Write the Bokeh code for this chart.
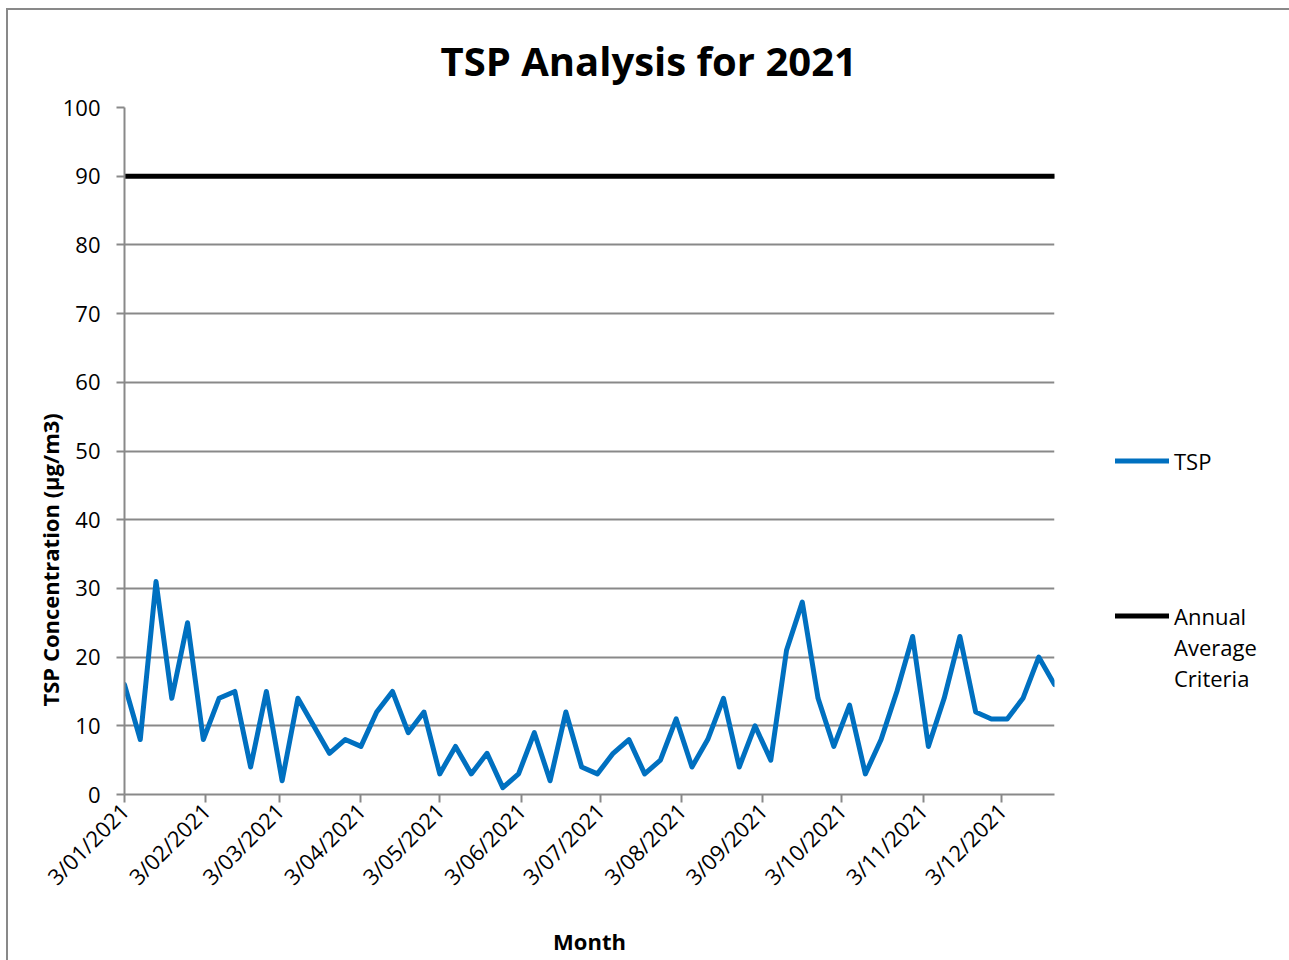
import pandas as pd
from bokeh.plotting import figure
from bokeh.models import Range1d, FixedTicker, Legend, LegendItem, Title
from bokeh.embed import file_html
from bokeh.resources import INLINE

# ---- data ----
start_date = "2021-01-03"
end_date = "2021-12-23"
tsp_values = [16, 8, 31, 14, 25, 8, 14, 15, 4, 15,
              2, 14, 10, 6, 8, 7, 12, 15, 9, 12,
              3, 7, 3, 6, 1, 3, 9, 2, 12, 4,
              3, 6, 8, 3, 5, 11, 4, 8, 14, 4,
              10, 5, 21, 28, 14, 7, 13, 3, 8, 15,
              23, 7, 14, 23, 12, 11, 11, 14, 20, 16]
criteria_value = 90
tick_dates = ["2021-01-03", "2021-02-03", "2021-03-03", "2021-04-03", "2021-05-03", "2021-06-03",
              "2021-07-03", "2021-08-03", "2021-09-03", "2021-10-03", "2021-11-03", "2021-12-03"]
tick_labels = ["3/01/2021", "3/02/2021", "3/03/2021", "3/04/2021", "3/05/2021", "3/06/2021",
               "3/07/2021", "3/08/2021", "3/09/2021", "3/10/2021", "3/11/2021", "3/12/2021"]
y_ticks = [0, 10, 20, 30, 40, 50, 60, 70, 80, 90, 100]
series_names = ["TSP", "Annual Average Criteria"]

dates = pd.date_range(start_date, periods=len(tsp_values), freq="6D")
criteria = [criteria_value] * len(tsp_values)

FONT = "Open Sans"
GRAY = "#898989"
BLUE = "#0070C0"

# canvas is shifted by CSS margin+border (8px left, 10px top)
SX, SY = 8, 10
L, R, T, B = 124 - SX, 235, 107 - SY, 166

p = figure(frame_width=930, frame_height=687, x_axis_type="datetime", output_backend="svg",
           toolbar_location=None, min_border_left=L, min_border_right=R,
           min_border_top=T, min_border_bottom=B,
           x_range=Range1d(pd.Timestamp(start_date), pd.Timestamp(end_date)),
           y_range=Range1d(0, 100),
           styles={"margin-left": "6px", "margin-top": "8px",
                   "border-left": "2px solid #898989", "border-top": "2px solid #898989"})
p.outline_line_color = None
p.background_fill_color = "white"
p.border_fill_color = "white"

# axes
tick_ms = [int(pd.Timestamp(d).value // 10**6) for d in tick_dates]
p.xaxis.ticker = FixedTicker(ticks=tick_ms)
p.xaxis.major_label_overrides = {t: lab for t, lab in zip(tick_ms, tick_labels)}
p.xaxis.major_label_orientation = 0.785398
p.yaxis.ticker = FixedTicker(ticks=y_ticks)
for ax in (p.xaxis, p.yaxis):
    ax.axis_line_color = GRAY
    ax.axis_line_width = 2
    ax.major_tick_line_color = GRAY
    ax.major_tick_line_width = 2
    ax.major_tick_in = 0
    ax.minor_tick_line_color = None
    ax.major_label_text_font = FONT
    ax.major_label_text_font_size = "22px"
    ax.major_label_text_color = "black"
    ax.axis_label_text_font = FONT
    ax.axis_label_text_font_style = "bold"
    ax.axis_label_text_color = "black"
p.xaxis.major_tick_out = 8
p.yaxis.major_tick_out = 8
p.xaxis.major_label_standoff = 4
p.yaxis.major_label_standoff = 16
p.xaxis.axis_label = "Month"
p.xaxis.axis_label_text_font_size = "22px"
p.xaxis.axis_label_standoff = 22

p.xgrid.grid_line_color = None
p.ygrid.grid_line_color = GRAY
p.ygrid.grid_line_width = 2
p.ygrid.ticker = FixedTicker(ticks=y_ticks)

# y-axis title (placed like Excel: offset along the axis)
p.add_layout(Title(text="TSP Concentration (µg/m3)", align="left", offset=88,
                   vertical_align="bottom", standoff=-10, text_font=FONT,
                   text_font_size="22px", text_font_style="bold",
                   text_color="black"), "left")

# chart title
p.add_layout(Title(text="TSP Analysis for 2021", align="left", offset=316,
                   vertical_align="middle", standoff=37, text_font=FONT,
                   text_font_size="40px", text_font_style="bold",
                   text_color="black"), "above")

# series
r_tsp = p.line(dates, tsp_values, line_color=BLUE, line_width=5,
               line_join="round", line_cap="round")
r_crit = p.line(dates, criteria, line_color="black", line_width=5,
                line_join="round", line_cap="round")
r_blank = p.line([], [], line_alpha=0)

items = [LegendItem(label=series_names[0], renderers=[r_tsp])]
items += [LegendItem(label=" ", renderers=[r_blank]) for _ in range(4)]
items += [LegendItem(label="Annual", renderers=[r_crit]),
          LegendItem(label="Average", renderers=[r_blank]),
          LegendItem(label="Criteria", renderers=[r_blank])]
legend = Legend(items=items, location=(61, 101), glyph_width=54, glyph_height=31,
                label_height=31, label_standoff=5, padding=0, margin=0, spacing=0,
                border_line_color=None, background_fill_alpha=0, label_text_font=FONT,
                label_text_font_size="22px", label_text_color="black")
p.add_layout(legend, "right")

open("out.html", "w").write(file_html(p, INLINE))
